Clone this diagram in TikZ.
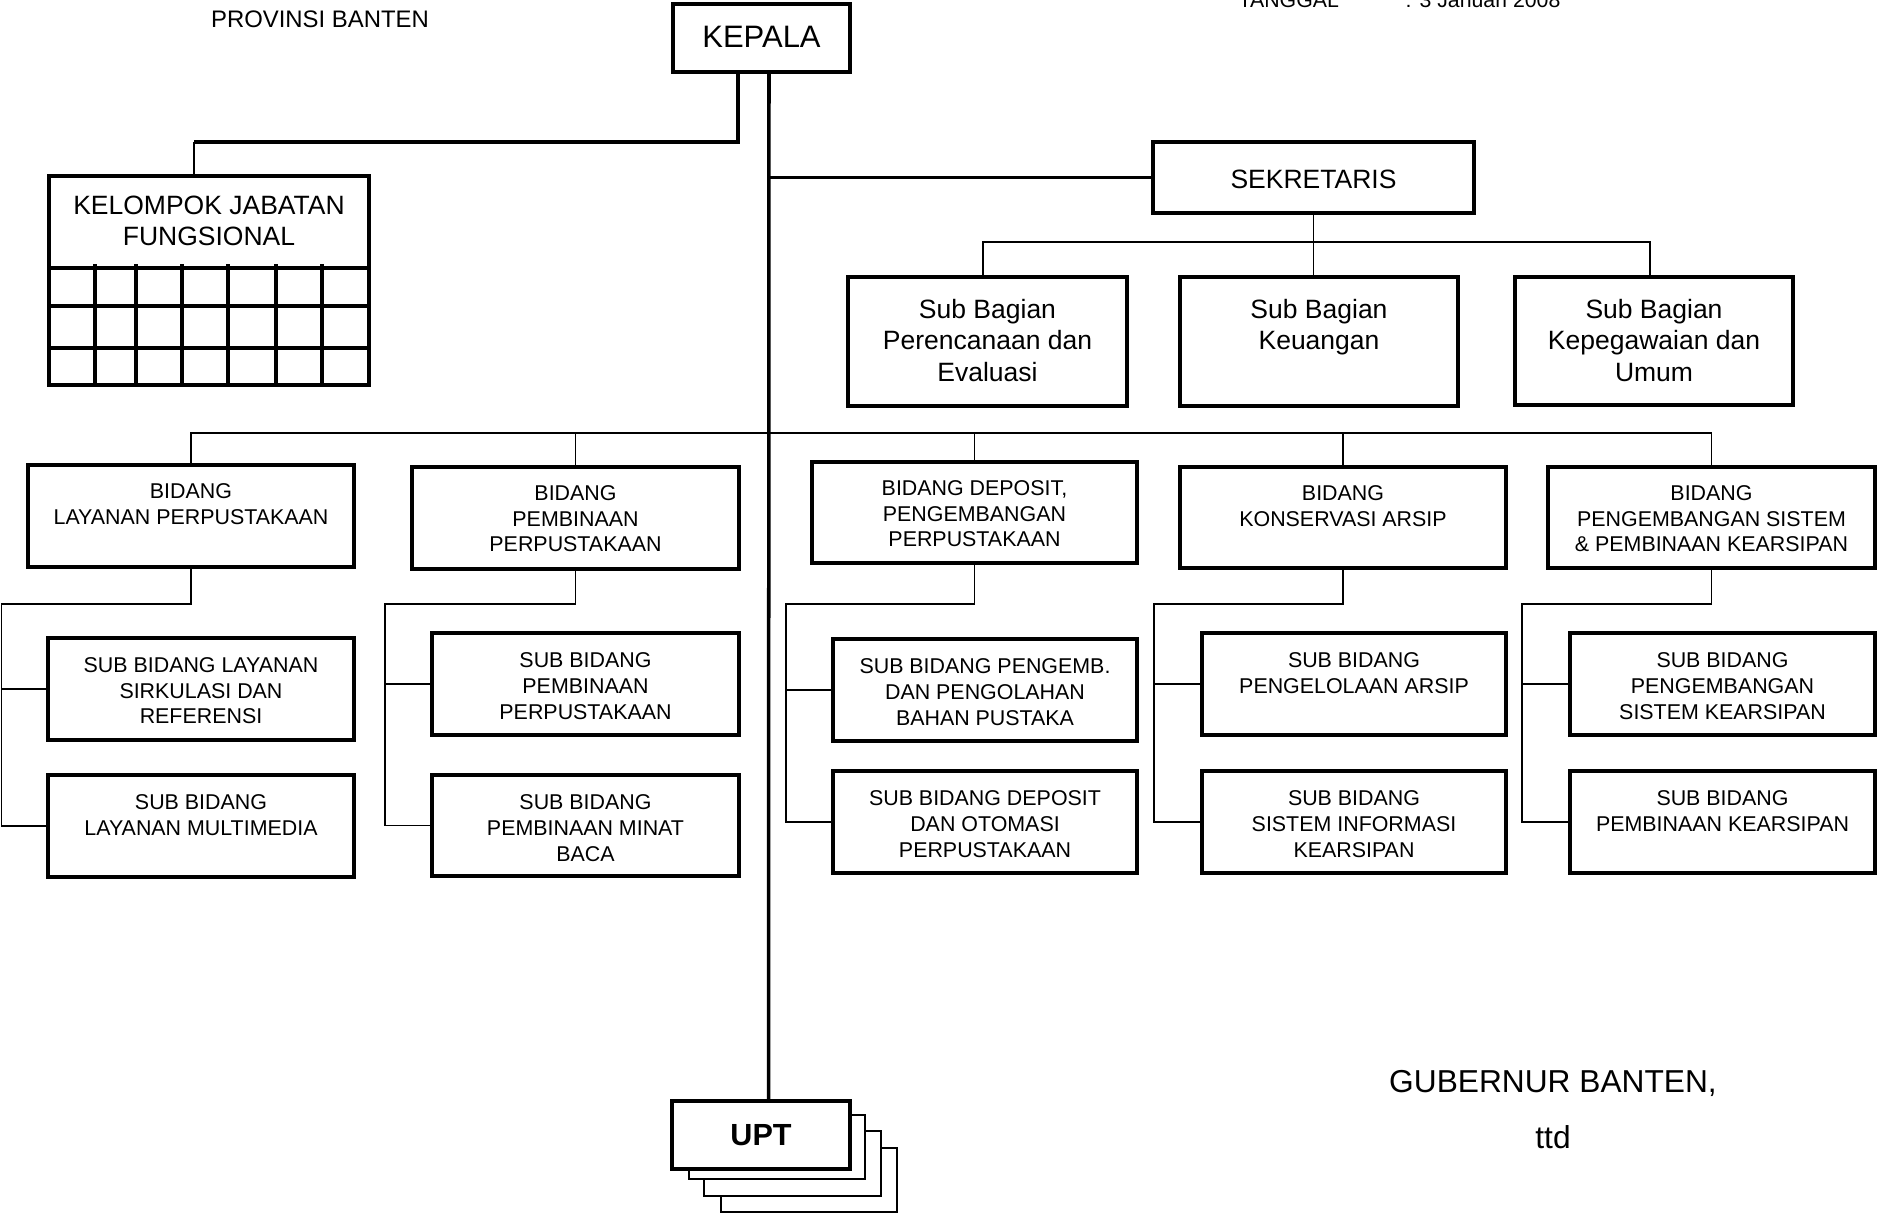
\documentclass[tikz,border=0pt]{standalone}
\usepackage{fontspec}
\setmainfont{Liberation Sans}
\newcommand\orgbox[6][]{\node[bx,#1,anchor=north west,minimum width={(#5-#3)*0.1mm},minimum height={(#6-#4)*0.1mm}] (#2) at (#3,#4) {};}
\newcommand\uptbox[5]{\node[bx,anchor=north west,minimum width={(#4-#2)*0.1mm},minimum height={(#5-#3)*0.1mm},font=\fontsize{8.7}{10}\selectfont\bfseries] (#1) at (#2,#3) {UPT};}
\begin{document}
\begin{tikzpicture}[x=0.1mm,y=-0.1mm,
  thk/.style={line width=1.0pt},
  thn/.style={line width=0.45pt},
  grd/.style={line width=1.1pt},
  bx/.style={draw,line width=1.05pt,fill=white,rectangle,inner sep=0pt,outer sep=0pt},
  fs/.style={font=\fontsize{6.09}{7.26}\selectfont,align=center,inner sep=0pt,anchor=north},
  fm/.style={font=\fontsize{7.54}{9.0}\selectfont,align=center,inner sep=0pt,anchor=north},
  fk/.style={font=\fontsize{7.54}{8.82}\selectfont,align=center,inner sep=0pt,anchor=north},
  plain/.style={inner sep=0pt,anchor=base}]
\useasboundingbox (0,0) rectangle (1877,1213);

% header texts
\node[plain,font=\fontsize{6.8}{8}\selectfont] (prov) at (320,27) {PROVINSI BANTEN};
\node[plain,anchor=base west,font=\fontsize{6.06}{7}\selectfont] (tgl) at (1238,7) {TANGGAL};
\node[plain,anchor=base west,font=\fontsize{6.06}{7}\selectfont] (tgl2) at (1405,7) {: 3 Januari 2008};

% top level boxes
\orgbox{kepala}{673}{4}{850}{72}
\node[plain,font=\fontsize{8.82}{10}\selectfont] (kepalat) at (761.5,47) {KEPALA};
\orgbox{sek}{1153}{142}{1474}{213}
\node[plain,font=\fontsize{7.54}{9}\selectfont] (sekt) at (1313.5,188) {SEKRETARIS};

% Kelompok Jabatan Fungsional
\orgbox{kjf}{49}{176}{369}{385}
\node[fk] (kjft) at ([yshift=-1.95mm]kjf.north) {KELOMPOK JABATAN\\FUNGSIONAL};
\foreach \yy in {268,306,348} \draw[grd] (49,\yy) -- (369,\yy);
\foreach \xx in {95,136,182,228,276,322} \draw[grd] (\xx,264) -- (\xx,385);

% Sub Bagian
\orgbox{sb1}{848}{277}{1127}{406}
\orgbox{sb2}{1180}{277}{1458}{406}
\orgbox{sb3}{1515}{277}{1793}{405}
\node[fm] (sb1t) at ([yshift=-2.12mm]sb1.north) {Sub Bagian\\Perencanaan dan\\Evaluasi};
\node[fm] (sb2t) at ([yshift=-2.12mm]sb2.north) {Sub Bagian\\Keuangan};
\node[fm] (sb3t) at ([yshift=-2.12mm]sb3.north) {Sub Bagian\\Kepegawaian dan\\Umum};

% Bidang
\orgbox{b1}{28}{465}{354}{567}
\orgbox{b2}{412}{467}{739}{569}
\orgbox{b3}{812}{462}{1137}{563}
\orgbox{b4}{1180}{467}{1506}{568}
\orgbox{b5}{1548}{467}{1875}{568}
\node[fs] (b1t) at ([yshift=-1.83mm]b1.north) {BIDANG\\LAYANAN PERPUSTAKAAN};
\node[fs] (b2t) at ([yshift=-1.83mm]b2.north) {BIDANG\\PEMBINAAN\\PERPUSTAKAAN};
\node[fs] (b3t) at ([yshift=-1.83mm]b3.north) {BIDANG DEPOSIT,\\PENGEMBANGAN\\PERPUSTAKAAN};
\node[fs] (b4t) at ([yshift=-1.83mm]b4.north) {BIDANG\\KONSERVASI ARSIP};
\node[fs] (b5t) at ([yshift=-1.83mm]b5.north) {BIDANG\\PENGEMBANGAN SISTEM\\\& PEMBINAAN KEARSIPAN};

% Sub Bidang
\orgbox{s11}{48}{638}{354}{740}
\orgbox{s12}{48}{775}{354}{877}
\orgbox{s21}{432}{633}{739}{735}
\orgbox{s22}{432}{775}{739}{876}
\orgbox{s31}{833}{639}{1137}{741}
\orgbox{s32}{833}{771}{1137}{873}
\orgbox{s41}{1202}{633}{1506}{735}
\orgbox{s42}{1202}{771}{1506}{873}
\orgbox{s51}{1570}{633}{1875}{735}
\orgbox{s52}{1570}{771}{1875}{873}
\node[fs] (s11t) at ([yshift=-1.93mm]s11.north) {SUB BIDANG LAYANAN\\SIRKULASI DAN\\REFERENSI};
\node[fs] (s12t) at ([yshift=-1.93mm]s12.north) {SUB BIDANG\\LAYANAN MULTIMEDIA};
\node[fs] (s21t) at ([yshift=-1.93mm]s21.north) {SUB BIDANG\\PEMBINAAN\\PERPUSTAKAAN};
\node[fs] (s22t) at ([yshift=-1.93mm]s22.north) {SUB BIDANG\\PEMBINAAN MINAT\\BACA};
\node[fs] (s31t) at ([yshift=-1.93mm]s31.north) {SUB BIDANG PENGEMB.\\DAN PENGOLAHAN\\BAHAN PUSTAKA};
\node[fs] (s32t) at ([yshift=-1.93mm]s32.north) {SUB BIDANG DEPOSIT\\DAN OTOMASI\\PERPUSTAKAAN};
\node[fs] (s41t) at ([yshift=-1.93mm]s41.north) {SUB BIDANG\\PENGELOLAAN ARSIP};
\node[fs] (s42t) at ([yshift=-1.93mm]s42.north) {SUB BIDANG\\SISTEM INFORMASI\\KEARSIPAN};
\node[fs] (s51t) at ([yshift=-1.93mm]s51.north) {SUB BIDANG\\PENGEMBANGAN\\SISTEM KEARSIPAN};
\node[fs] (s52t) at ([yshift=-1.93mm]s52.north) {SUB BIDANG\\PEMBINAAN KEARSIPAN};

% UPT stack
\draw[thn,fill=white] (721,1148) rectangle (897,1212);
\draw[thn,fill=white] (704,1131) rectangle (881,1196);
\draw[thn,fill=white] (689,1115) rectangle (865,1179);
\uptbox{upt}{672}{1101}{850}{1169}

% signature
\node[plain,font=\fontsize{9.02}{11}\selectfont] (gub) at (1553,1092) {GUBERNUR BANTEN,};
\node[plain,font=\fontsize{9.02}{11}\selectfont] (ttd) at (1553,1148) {ttd};

% connectors
\coordinate (trunk) at ([xshift=0.75mm]kepala.south);
\coordinate (kjfleg) at ([xshift=-2.35mm]kepala.south);
\coordinate (kjfbend) at (194,142);
\draw[thk] (trunk) -- ([xshift=0.75mm]upt.north);
\draw[thk] (kjfleg) |- (kjfbend);
\draw[thn] (kjfbend) -- (kjf.north -| kjfbend);
\draw[thk] (trunk |- sek.west) -- (sek.west);

\coordinate (sbbar) at (1314,242);
\coordinate (sb1c) at ([xshift=-0.45mm]sb1.north);
\coordinate (sb3c) at ([xshift=-0.4mm]sb3.north);
\draw[thn] (sek.south) -- (sb2.north -| sek.south);
\draw[thn] (sb1c) -- (sb1c |- sbbar) -- (sb3c |- sbbar) -- (sb3c);

\coordinate (bbar) at (769,433);
\draw[thn] (b1.north) -- (b1.north |- bbar) -- (b5.north |- bbar) -- (b5.north);
\foreach \b in {b2,b3,b4} \draw[thn] (\b.north) -- (\b.north |- bbar);

\coordinate (r1) at (1.5,604);
\coordinate (r2) at (385,604);
\coordinate (r3) at (786,604);
\coordinate (r4) at (1154,604);
\coordinate (r5) at (1522,604);
\foreach \i in {1,...,5} {
  \draw[thn] (b\i.south) |- (r\i) -- (r\i |- s\i2.west) -- (s\i2.west);
  \draw[thn] (r\i |- s\i1.west) -- (s\i1.west);
}
\end{tikzpicture}
\end{document}
